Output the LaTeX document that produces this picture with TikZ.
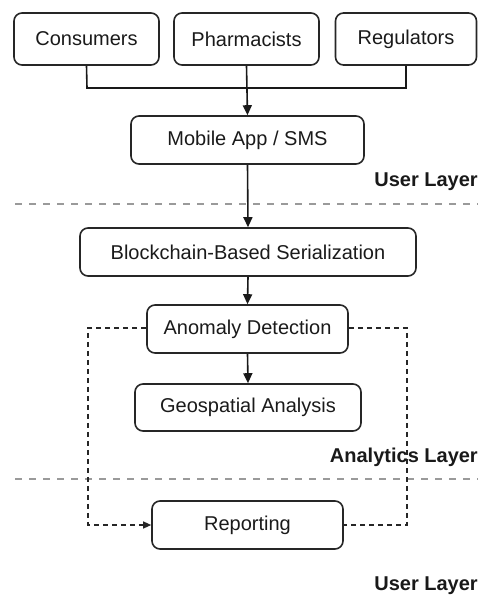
\documentclass[tikz,border=0pt]{standalone}
\usepackage{fontspec}
\setmainfont{Liberation Sans}
\usetikzlibrary{arrows.meta}
\definecolor{txt}{HTML}{1A1A1A}
\definecolor{sep}{HTML}{9A9A9A}
\begin{document}
\begin{tikzpicture}[x=1pt,y=-1pt,
  box/.style={draw=black!85, line width=1.6pt, rounded corners=8pt, text=txt,
    font=\fontsize{20}{24}\selectfont, inner sep=0pt},
  flow/.style={draw=black!90, line width=1.6pt},
  arr/.style={flow, -{Triangle[length=10pt,width=9pt]}},
  loop/.style={draw=black!85, line width=1.2pt, dash pattern=on 5pt off 4pt},
  sepline/.style={draw=sep, line width=1.8pt, dash pattern=on 7pt off 7pt},
  layer/.style={anchor=east, font=\bfseries\fontsize{20}{24}\selectfont, text=black!90, inner sep=0pt}]
\useasboundingbox (0,0) rectangle (478,597);
\node[box, minimum width=145pt, minimum height=52pt] (cons) at (86.5,39) {Consumers};
\node[box, minimum width=145pt, minimum height=52pt] (pharm) at (246.5,39) {Pharmacists};
\node[box, minimum width=141pt, minimum height=52pt] (reg) at (406,39) {Regulators};
\node[box, minimum width=233pt, minimum height=48pt] (app) at (247.5,140) {Mobile App / SMS};
\node[box, minimum width=336pt, minimum height=48pt] (chain) at (248,252) {Blockchain-Based Serialization};
\node[box, minimum width=201pt, minimum height=48pt] (anom) at (247.5,329) {Anomaly Detection};
\node[box, minimum width=226pt, minimum height=47pt] (geo) at (248,407.5) {Geospatial Analysis};
\node[box, minimum width=191pt, minimum height=48pt] (rep) at (247.5,525) {Reporting};
\node[layer] (ul1) at (478,182) {User Layer};
\node[layer] (al) at (478,457) {Analytics Layer};
\node[layer] (ul2) at (478,586) {User Layer};
\coordinate (s1a) at (15,204); \coordinate (s1b) at (478,204);
\coordinate (s2a) at (15,479); \coordinate (s2b) at (478,479);
\coordinate (jl) at (87,88); \coordinate (jr) at (406,88);
\coordinate (ll) at (88,328); \coordinate (lr) at (407,328);
\draw[sepline] (s1a) -- (s1b);
\draw[sepline] (s2a) -- (s2b);
\draw[flow] (cons.south) -- (jl) -- (jr) -- (reg.south);
\draw[arr] (pharm.south) -- (app.north);
\draw[arr] (app.south) -- (chain.north);
\draw[arr] (chain.south) -- (anom.north);
\draw[arr] (anom.south) -- (geo.north);
\draw[loop, -{Triangle[length=8pt,width=7pt]}] (anom.west |- ll) -- (ll) |- (rep.west);
\draw[loop] (anom.east |- lr) -- (lr) |- (rep.east);
\end{tikzpicture}
\end{document}
